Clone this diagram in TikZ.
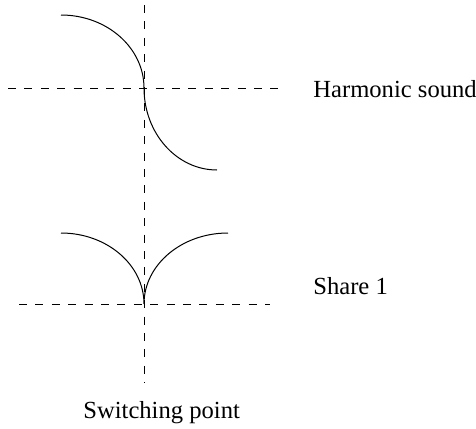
\documentclass[tikz,border=0pt]{standalone}
\usepackage{fontspec}
\setmainfont{Liberation Serif}
\usetikzlibrary{positioning,calc}
\tikzset{
  guide/.style  = {line width=0.5pt, dash pattern=on 4pt off 4.2pt},
  wave/.style   = {line width=0.5pt},
  caption/.style = {font=\fontsize{12.3}{14}\selectfont, inner sep=0pt}
}

\begin{document}
\begin{tikzpicture}[x=0.5pt,y=-0.5pt]
\useasboundingbox (0,0) rectangle (476,428);

% --- reference points -----------------------------------------------------
\coordinate (vtop)  at (144,5);
\coordinate (vbot)  at (144,383);
\coordinate (hl1)   at (8,88);
\coordinate (hr1)   at (281,88);
\coordinate (hl2)   at (19,304);
\coordinate (hr2)   at (270,304);

% --- dashed guide lines ---------------------------------------------------
\draw[guide] (vtop) -- (vbot);
\draw[guide] (hl1) -- (hr1);
\draw[guide] (hl2) -- (hr2);

% --- harmonic sound -------------------------------------------------------
\draw[wave] (61,15) arc[start angle=270, end angle=360, x radius=83, y radius=73]
            arc[start angle=180, end angle=90, x radius=73, y radius=82];

% --- share 1 --------------------------------------------------------------
\draw[wave] (61,233) arc[start angle=270, end angle=360, x radius=83, y radius=71]
            arc[start angle=180, end angle=270, x radius=84, y radius=71];

% --- labels ---------------------------------------------------------------
\node[caption, anchor=base west] (harm)   at (313,97)  {Harmonic sound};
\node[caption, anchor=base west] (share)  at (313,294) {Share 1};
\node[caption, anchor=base west] (switch) at (83,418)  {Switching point};

\end{tikzpicture}
\end{document}
